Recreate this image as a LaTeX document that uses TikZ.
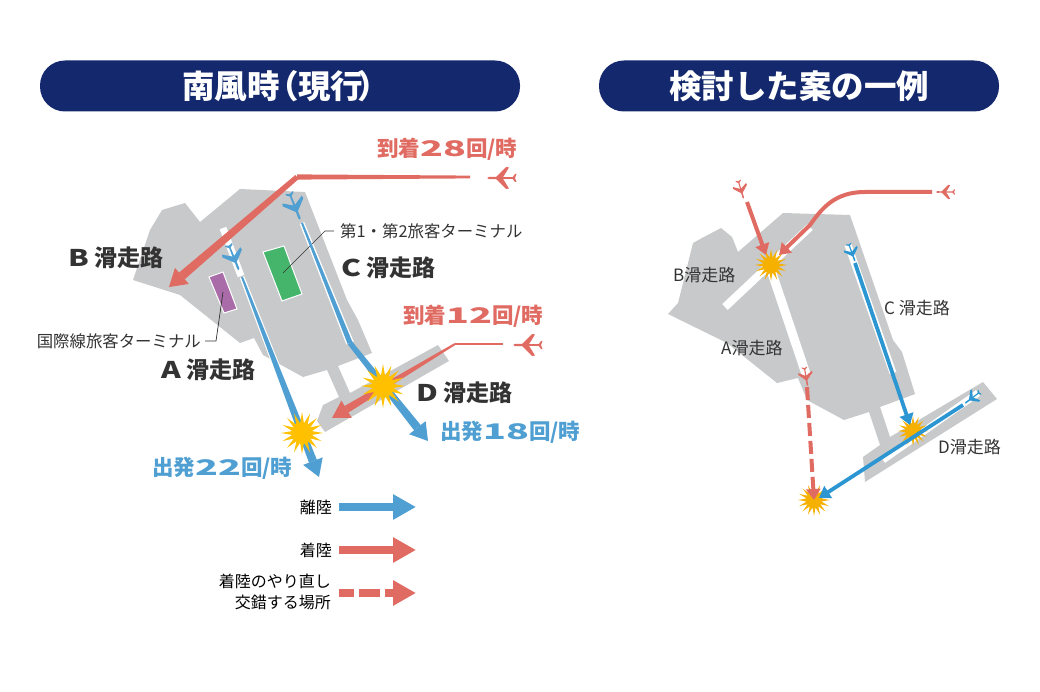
\documentclass[tikz,border=0pt]{standalone}
\usepackage{fontspec}
\setmainfont{Noto Sans CJK JP}
\usetikzlibrary{arrows.meta,calc,shapes.geometric}
\definecolor{navybar}{HTML}{14286E}
\definecolor{landgray}{HTML}{C8C9CA}
\definecolor{runred}{HTML}{E06B62}
\definecolor{runblue}{HTML}{509FD2}
\definecolor{deepblue}{HTML}{2B96D2}
\definecolor{termgreen}{HTML}{45B56B}
\definecolor{termpurple}{HTML}{AA6CA8}
\definecolor{burst}{HTML}{FFC000}
\definecolor{burstdark}{HTML}{F5B000}
\definecolor{inkgray}{HTML}{333333}
\newcommand{\wide}[1]{\scalebox{1.3}[1]{#1}}
\newcommand{\widerate}[1]{\scalebox{1.75}[1]{#1}}
% tapered stroke between two named coordinates
\newcommand{\taper}[5]{\fill[#1] ($(#2)!#4pt!90:(#3)$) -- ($(#3)!#5pt!-90:(#2)$) -- ($(#3)!#5pt!90:(#2)$) -- ($(#2)!#4pt!-90:(#3)$) -- cycle;}
% same, ending in a head of half width #6 and length #7
\newcommand{\taperhead}[7]{\coordinate (headbase) at ($(#3)!#7pt!(#2)$);
  \taper{#1}{#2}{headbase}{#4}{#5}
  \fill[#1] (#3) -- ($(headbase)!#6pt!90:(#3)$) -- ($(headbase)!#6pt!-90:(#3)$) -- cycle;}
\tikzset{%
  titlebar/.style  = {rectangle, rounded corners=25pt, fill=navybar, text=white, minimum height=51pt,
                      font=\fontsize{32.5}{32.5}\selectfont\bfseries, inner sep=0pt},
  rwylabel/.style  = {font=\fontsize{23}{23}\selectfont\bfseries, text=inkgray, inner sep=0pt},
  ratelabel/.style = {font=\fontsize{21.5}{21.5}\selectfont\bfseries, inner sep=0pt},
  smallrwy/.style  = {font=\fontsize{17}{17}\selectfont, text=inkgray, inner sep=0pt},
  termlabel/.style = {font=\fontsize{16.4}{16.4}\selectfont, text=inkgray, inner sep=0pt},
  legendtext/.style= {font=\fontsize{16}{21}\selectfont, text=black, inner sep=0pt, align=right},
  crash/.style     = {star, star points=16, star point ratio=2.1, fill=burst, draw=none, inner sep=0pt},
  leader/.style    = {draw=inkgray, line width=0.7pt},
  strip/.style     = {draw=white, line cap=butt},
  flyred/.style    = {draw=runred, line width=4pt, -{Triangle[width=14pt,length=11pt]}},
  flyblue/.style   = {draw=deepblue, line width=3.8pt, -{Triangle[width=14pt,length=11pt]}},
  legarrow/.style  = {line width=8pt, -{Triangle[width=24pt,length=23pt]}},
  plane/.pic = {
    \fill (14,0) to[out=90,in=0] (12,1.2) -- (-13,0.8) -- (-13,-0.8) -- (12,-1.2) to[out=0,in=-90] cycle;
    \fill (6,0) -- (-5,11) -- (-8,10.5) -- (-1.5,0) -- (-8,-10.5) -- (-5,-11) -- cycle;
    \fill (-11,0) -- (-14,4) -- (-15.5,4) -- (-14,0) -- (-15.5,-4) -- (-14,-4) -- cycle;
  },
}
\begin{document}
\begin{tikzpicture}[x=1pt,y=-1pt]
  \useasboundingbox (0,0) rectangle (1040,692);

  % headers
  \node (titleL) [titlebar, minimum width=480pt] at (280,86) {南風時\kern-13pt（\kern-1pt現行\kern-6pt）\kern-11.5pt};
  \node (titleR) [titlebar, minimum width=400pt] at (799,86) {検討した案の一例};

  % ---- left map
  \fill[landgray] (240,189) -- (305,192) -- (347,300) -- (358,320) -- (372,353) -- (338,366)
    -- (350,393) -- (438,345) -- (449,361) -- (325,432) -- (317,421) -- (323,405) -- (339,397)
    -- (327,370) -- (303,377) -- (263,355) -- (254,338) -- (240,343) -- (180,295) -- (133,280)
    -- (150,230) -- (162,210) -- (185,203) -- (200,222) -- cycle;

  \coordinate (stubA1) at (223,228);
  \coordinate (stubA2) at (241,276);
  \coordinate (depA1)  at (242,277);
  \coordinate (depA2)  at (319,477);
  \coordinate (depC1)  at (302,223);
  \coordinate (depC2)  at (350,343);
  \coordinate (depC3)  at (428,441);
  \coordinate (arr28a) at (470,177);
  \coordinate (arr28b) at (297,177);
  \coordinate (arr28c) at (169,287);
  \coordinate (arr12a) at (503,344);
  \coordinate (arr12b) at (455,344);
  \coordinate (arr12c) at (332,418);

  \draw[strip, line width=7pt] (stubA1) -- (stubA2);
  \taper{white}{depA1}{depA2}{2.4}{5}
  \taper{white}{depC1}{depC2}{2.4}{4}

  \fill[termgreen, draw=white, line width=1pt] (263,252) -- (284,246) -- (302,294) -- (282,301) -- cycle;
  \fill[termpurple, draw=white, line width=1pt] (209,277) -- (223,272) -- (237,309) -- (224,313) -- cycle;

  \coordinate (greenpin) at (283,273);
  \coordinate (purppin)  at (223,292);
  \node (termT) [termlabel, anchor=west] at (340,231) {第1・第2旅客ターミナル};
  \node (termI) [termlabel, anchor=east] at (201,341) {国際線旅客ターミナル};
  \draw[leader] (termT.west) ++(-6,0) -- ++(-9,0) -- (greenpin);
  \draw[leader] (termI.east) ++(4,0) -- ++(11,0) -- (purppin);

  % arrows, left
  \taperhead{runblue}{depA1}{depA2}{1}{4.2}{10.5}{17}
  \taper{runblue}{depC1}{depC2}{1}{2.6}
  \taperhead{runblue}{depC2}{depC3}{2.6}{4.2}{10.5}{17}
  \taper{runred}{arr28a}{arr28b}{1.4}{2.6}
  \taperhead{runred}{arr28b}{arr28c}{2.6}{4.4}{10.6}{17}
  \taper{runred}{arr12a}{arr12b}{1}{1}
  \taperhead{runred}{arr12b}{arr12c}{1}{3.8}{10}{17}

  \pic[runred, rotate=180] (planeE) at (501,178) {plane};
  \pic[runred, rotate=180] (planeF) at (527,345) {plane};
  \pic[runblue, rotate=-68] (planeG) at (295,207) {plane};
  \pic[runblue, rotate=-68, scale=0.95] (planeH) at (234,258) {plane};

  \node (burstD) [crash, minimum size=44pt] at (383,386) {};
  \node (burstA) [crash, minimum size=42pt] at (302,433) {};

  \node (labB) [rwylabel, anchor=west] at (68,258)  {\wide{B} 滑走路};
  \node (labC) [rwylabel, anchor=west] at (341,268) {\wide{C} 滑走路};
  \node (labA) [rwylabel, anchor=west] at (161,370) {\wide{A} 滑走路};
  \node (labD) [rwylabel, anchor=west] at (416,393) {\wide{D} 滑走路};

  \node (rate28) [ratelabel, text=runred, anchor=west]  at (377,149) {到着\widerate{28}回/時};
  \node (rate12) [ratelabel, text=runred, anchor=west]  at (403,316) {到着\widerate{12}回/時};
  \node (rate18) [ratelabel, text=runblue, anchor=west] at (440,432) {出発\widerate{18}回/時};
  \node (rate22) [ratelabel, text=runblue, anchor=west] at (152,468) {出発\widerate{22}回/時};

  % legend
  \node (legTake) [legendtext, anchor=east] at (332,507) {離陸};
  \node (legLand) [legendtext, anchor=east] at (332,550) {着陸};
  \node (legGo)   [legendtext, anchor=east] at (331,592) {着陸のやり直し\\交錯する場所};
  \coordinate (legTakeA) at (339,507);
  \coordinate (legTakeB) at (416,507);
  \coordinate (legLandA) at (339,550);
  \coordinate (legLandB) at (416,550);
  \coordinate (legGoA)   at (339,593);
  \coordinate (legGoB)   at (416,593);
  \draw[legarrow, draw=runblue] (legTakeA) -- (legTakeB);
  \draw[legarrow, draw=runred]  (legLandA) -- (legLandB);
  \draw[legarrow, draw=runred, dash pattern=on 15pt off 5pt on 21pt off 5pt on 8pt off 0pt] (legGoA) -- (legGoB);

  % ---- right map
  \fill[landgray] (783,213) -- (850,215) -- (893,340) -- (902,352) -- (915,394) -- (880,407)
    -- (890,437) -- (983,382) -- (997,399) -- (865,482) -- (863,457) -- (880,445)
    -- (869,412) -- (844,420) -- (807,400) -- (798,378) -- (777,383) -- (727,343) -- (668,314)
    -- (678,303) -- (693,243) -- (702,238) -- (721,228) -- (732,237) -- (738,252) -- cycle;

  \draw[strip, line width=9pt] (772,273) -- (807,377);
  \draw[strip, line width=8pt] (725,307) -- (810,227);
  \draw[strip, line width=7pt] (848,245) -- (893,373);
  \draw[strip, line width=7pt] (978,393) -- (883,460);

  \coordinate (redN1)  at (747,202);
  \coordinate (redN2)  at (766,255);
  \coordinate (redE1)  at (932,192);
  \coordinate (redE2)  at (865,192);
  \coordinate (redE3)  at (779,255);
  \coordinate (blueC1) at (855,263);
  \coordinate (blueC2) at (910,425);
  \coordinate (blueD1) at (963,405);
  \coordinate (blueD2) at (819,498);
  \coordinate (redG1)  at (807,387);
  \coordinate (redG2)  at (814,500);

  \node (burstB) [crash, fill=burstdark, minimum size=32pt] at (771,265) {};
  \node (burstC) [crash, fill=burstdark, minimum size=30pt] at (913,431) {};
  \node (burstS) [crash, fill=burstdark, minimum size=32pt] at (814,500) {};

  \draw[flyred] (redN1) -- (redN2);
  \draw[flyred] (redE1) -- (redE2) .. controls (835,192) and (822,208) .. (810,225) -- (redE3);
  \draw[flyblue] (blueC1) -- (blueC2);
  \draw[flyblue] (blueD1) -- (blueD2);
  \draw[flyred, dash pattern=on 13pt off 5pt] (redG1) -- (redG2);

  \pic[runred, rotate=-73, scale=0.65] (planeN) at (741,190) {plane};
  \pic[runred, rotate=180, scale=0.65] (planeR) at (945,192) {plane};
  \pic[runred, rotate=-80, scale=0.65] (planeS) at (806,377) {plane};
  \pic[deepblue, rotate=-70, scale=0.65] (planeC) at (852,253) {plane};
  \pic[deepblue, rotate=217, scale=0.65] (planeD) at (972,398) {plane};

  \node (sB) [smallrwy, anchor=west] at (673,275) {B滑走路};
  \node (sC) [smallrwy, anchor=west] at (884,308) {C 滑走路};
  \node (sA) [smallrwy, anchor=west] at (721,348) {A滑走路};
  \node (sD) [smallrwy, anchor=west] at (938,447) {D滑走路};
\end{tikzpicture}
\end{document}
